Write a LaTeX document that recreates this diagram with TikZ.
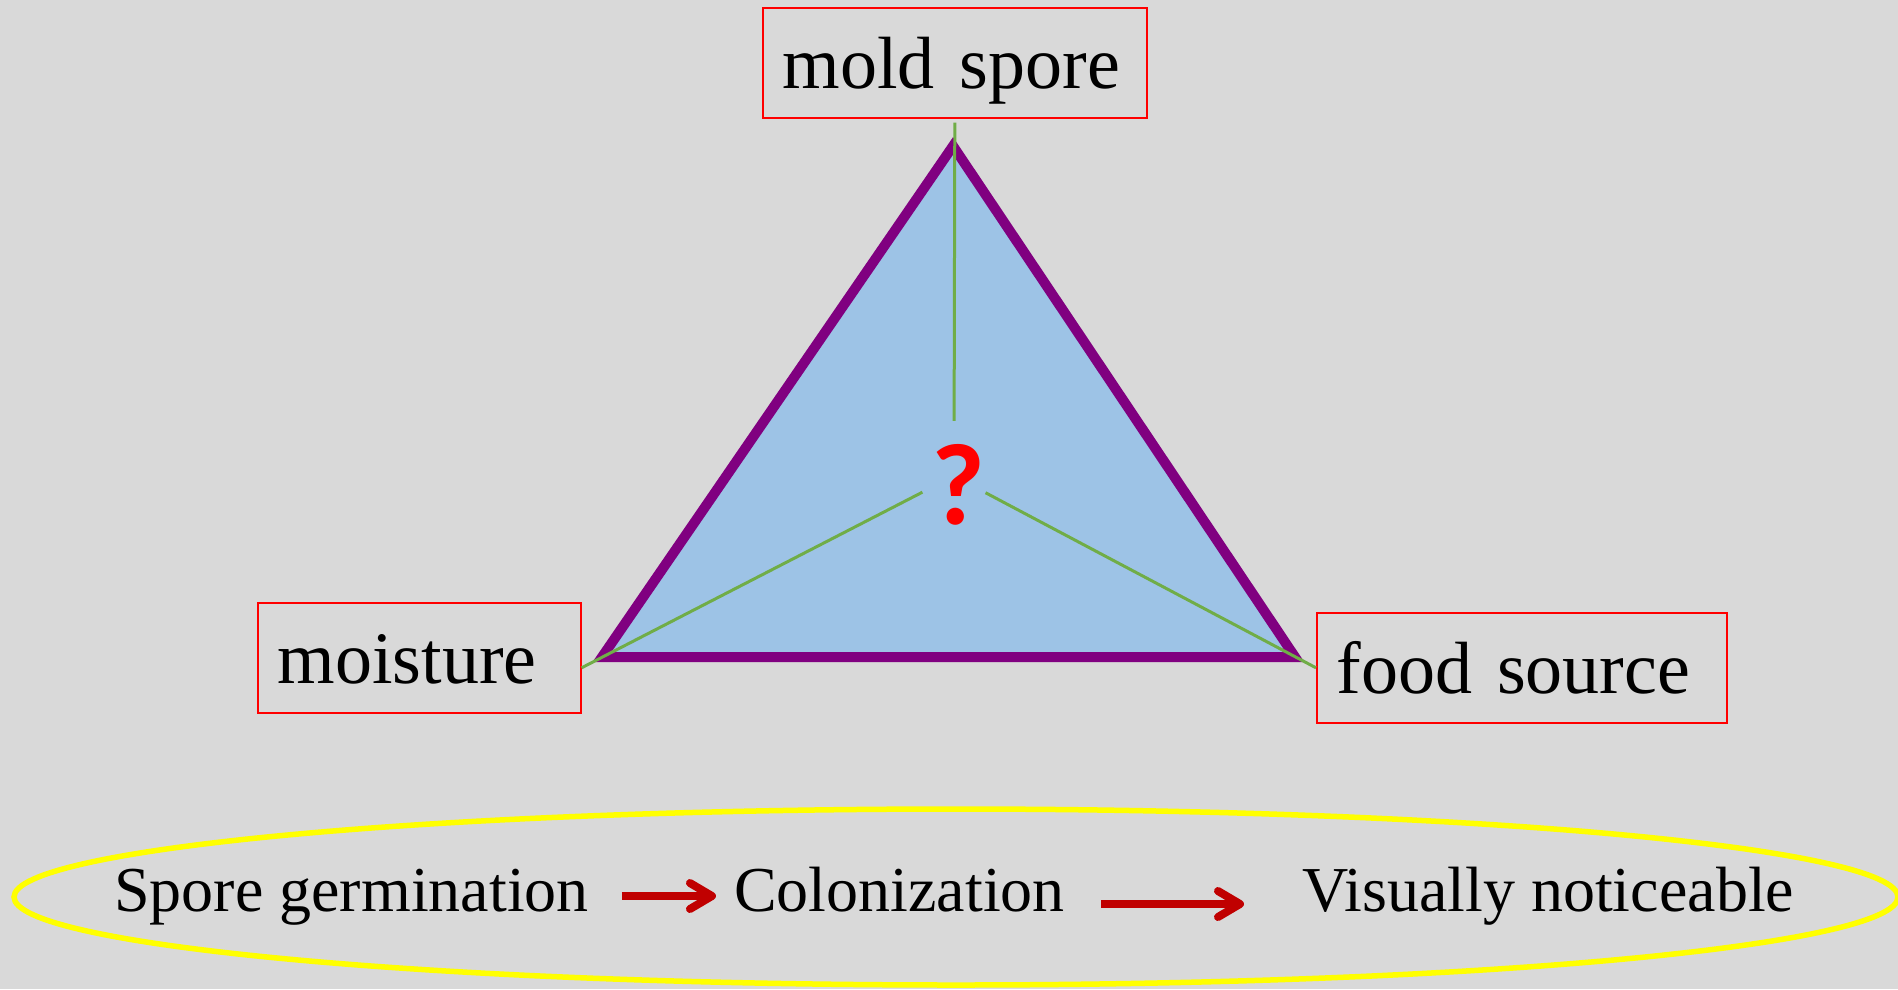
\documentclass[tikz,border=0pt]{standalone}
\usepackage{fontspec}
\setmainfont{Liberation Serif}
\newfontfamily\qmarkfont{Carlito}
\usetikzlibrary{arrows.meta,positioning}
\definecolor{slidegray}{HTML}{D9D9D9}
\definecolor{trifill}{HTML}{9DC3E6}
\definecolor{tripurple}{HTML}{800080}
\definecolor{linkgreen}{HTML}{70AD47}
\definecolor{boxred}{HTML}{FF0000}
\definecolor{arrowred}{HTML}{C00000}
\definecolor{ovalyellow}{HTML}{FFFF00}

\begin{document}
\begin{tikzpicture}[x=1pt,y=-1pt,
 factor/.style={draw=boxred,line width=1.6pt,inner xsep=20pt,inner ysep=0pt,text height=81pt,text depth=29pt,align=left,anchor=north west,font=\fontsize{74}{80}\selectfont},
 link/.style={draw=linkgreen,line width=3pt},
 stage/.style={inner sep=0pt,text height=44pt,text depth=14pt,font=\fontsize{64}{70}\selectfont},
 arrow/.style={draw=arrowred,line width=8pt,-{Straight Barb[length=22pt,width=26pt,round]}}
]
\path[use as bounding box] (0,0) rectangle (1898,989);
\fill[slidegray] (0,0) rectangle (1898,989);
\coordinate (topv) at (953,146);
\coordinate (leftv) at (602,657);
\coordinate (rightv) at (1295,657);
\filldraw[fill=trifill,draw=tripurple,line width=10pt,miter limit=10] (topv) -- (leftv) -- (rightv) -- cycle;
\node[factor,text width=344pt] (spore) at (762,7) {mold spore};
\node[factor,text width=283pt] (moist) at (257,602) {moisture};
\node[factor,text width=370pt] (food) at (1316,612) {food source};
\node[inner sep=0pt,minimum width=56pt,minimum height=110pt,text=boxred,font=\qmarkfont\bfseries\fontsize{116}{124}\selectfont] (q) at (954,476) {\raisebox{-9pt}[\height][\depth]{\hspace*{9pt}?}};
\draw[link,shorten <=4pt] (spore.south) -- (q);
\draw[link] ([yshift=-10pt]moist.east) -- (q);
\draw[link] (q) -- (food.west);
\draw[ovalyellow,line width=5.5pt] (956,897) ellipse [x radius=942pt,y radius=88pt];
\node[stage,anchor=base west] (germ) at (114,911) {Spore germination};
\node[stage,right=145pt of germ] (colon) {Colonization};
\node[stage,right=237pt of colon] (vis) {Visually noticeable};
\draw[arrow,shorten <=33pt,shorten >=18pt] (germ) -- (colon);
\draw[arrow,shorten <=36pt,shorten >=58pt] ([yshift=-8pt]colon.east) -- ([yshift=-8pt]vis.west);
\end{tikzpicture}
\end{document}
